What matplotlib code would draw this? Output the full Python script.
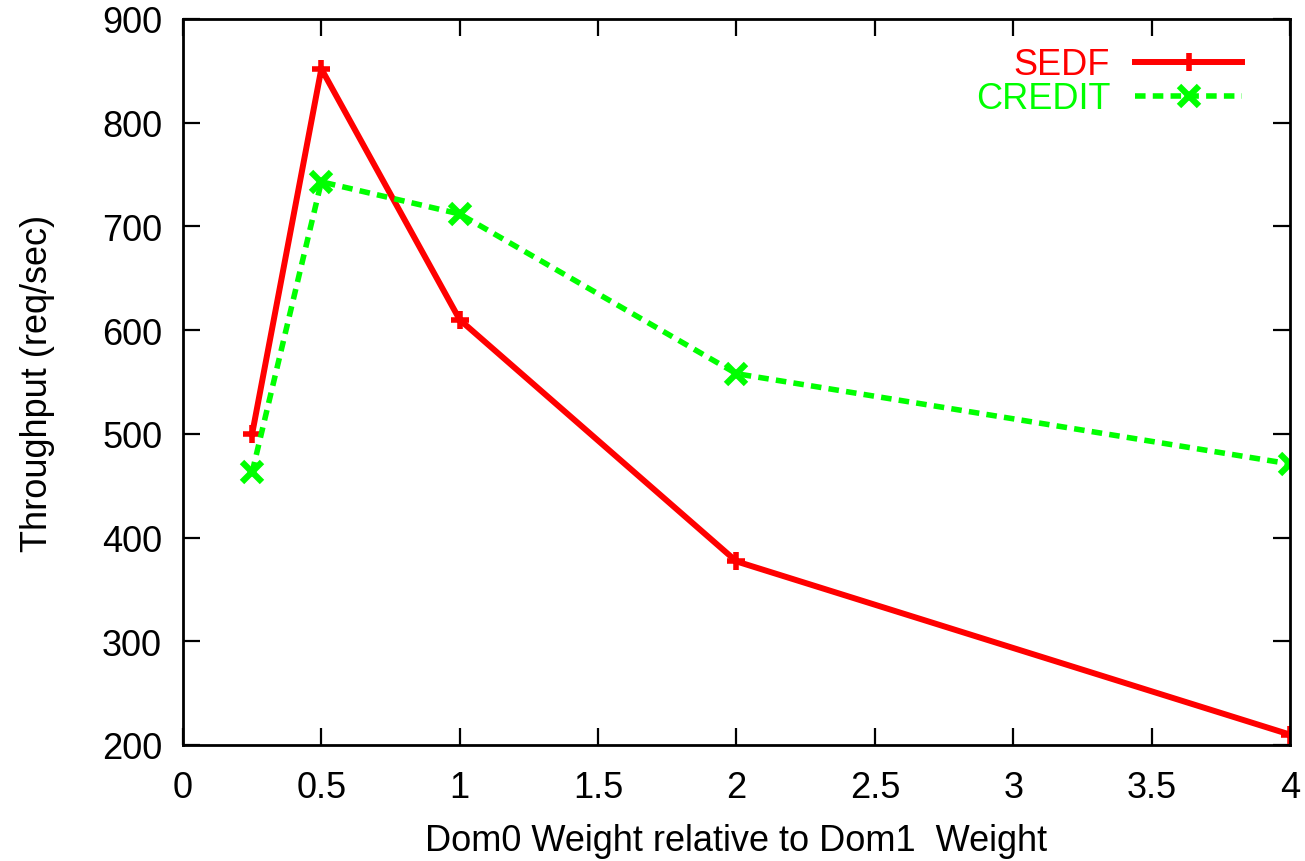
import matplotlib
matplotlib.use("Agg")
import matplotlib.pyplot as plt

# Throughput vs. Dom0/Dom1 weight ratio for two Xen schedulers
weights = [0.25, 0.5, 1, 2, 4]
sedf = [500, 852, 610, 377, 210]
credit = [463, 743, 712, 558, 471]

x_ticks = [0, 0.5, 1, 1.5, 2, 2.5, 3, 3.5, 4]
x_tick_labels = ["0", "0.5", "1", "1.5", "2", "2.5", "3", "3.5", "4"]
y_ticks = [200, 300, 400, 500, 600, 700, 800, 900]

plt.rcParams["font.family"] = ["Liberation Sans", "DejaVu Sans"]
FS = 26

fig = plt.figure(figsize=(13.05, 8.62), dpi=100)
ax = fig.add_axes([0.1402, 0.1346, 0.8483, 0.8422])

ax.plot(weights, sedf, color="#ff0000", lw=4.3, marker="+", ms=13, mew=4,
        label="SEDF")
ax.plot(weights, credit, color="#00ff00", lw=4.0, ls=(0, (1.9, 1.3)), marker="x",
        ms=14, mew=4.5, label="CREDIT")

ax.set_xlim(0, 4)
ax.set_ylim(200, 900)
ax.set_xticks(x_ticks)
ax.set_xticklabels(x_tick_labels)
ax.set_yticks(y_ticks)

ax.tick_params(direction="in", length=12, width=1.6, top=True, right=True,
               labelsize=FS)
ax.tick_params(axis="x", pad=18)
ax.tick_params(axis="y", pad=15)
for s in ax.spines.values():
    s.set_linewidth(2.0)

ax.set_xlabel("Dom0 Weight relative to Dom1  Weight", fontsize=FS, va="center")
ax.set_ylabel("Throughput (req/sec)", fontsize=FS, va="center")
ax.xaxis.set_label_coords(0.5, -0.131)
ax.yaxis.set_label_coords(-0.131, 0.5)

leg = ax.legend(loc="upper right", frameon=False, markerfirst=False,
                labelcolor="linecolor", fontsize=FS, handlelength=2.95,
                handletextpad=0.7, labelspacing=-0.03, borderpad=0,
                borderaxespad=0, bbox_to_anchor=(0.9566, 0.961))

fig.savefig("out.png", dpi=100)
